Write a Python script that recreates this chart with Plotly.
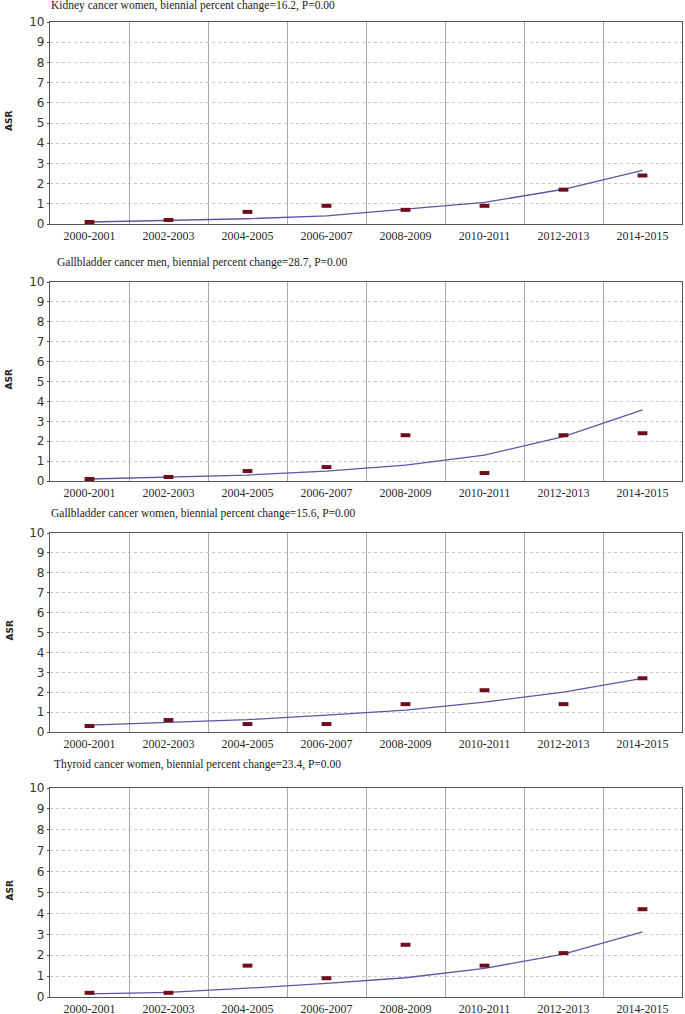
import plotly.graph_objects as go

periods = ["2000-2001", "2002-2003", "2004-2005", "2006-2007",
           "2008-2009", "2010-2011", "2012-2013", "2014-2015"]

titles = [
    "Kidney cancer women, biennial percent change=16.2, P=0.00",
    "Gallbladder cancer men, biennial percent change=28.7, P=0.00",
    "Gallbladder cancer women, biennial percent change=15.6, P=0.00",
    "Thyroid cancer women, biennial percent change=23.4, P=0.00",
]

kidney_women_obs = [0.1, 0.2, 0.6, 0.9, 0.7, 0.9, 1.7, 2.4]
kidney_women_fit = [0.1, 0.18, 0.26, 0.4, 0.72, 1.07, 1.72, 2.65]

gall_men_obs = [0.1, 0.2, 0.5, 0.7, 2.3, 0.4, 2.3, 2.4]
gall_men_fit = [0.1, 0.2, 0.3, 0.5, 0.8, 1.3, 2.23, 3.57]

gall_women_obs = [0.3, 0.6, 0.4, 0.4, 1.4, 2.1, 1.4, 2.7]
gall_women_fit = [0.35, 0.47, 0.62, 0.85, 1.1, 1.5, 2.0, 2.7]

thyroid_women_obs = [0.2, 0.2, 1.5, 0.9, 2.5, 1.5, 2.1, 4.2]
thyroid_women_fit = [0.15, 0.22, 0.42, 0.65, 0.92, 1.37, 2.05, 3.12]

observed = [kidney_women_obs, gall_men_obs, gall_women_obs, thyroid_women_obs]
fitted = [kidney_women_fit, gall_men_fit, gall_women_fit, thyroid_women_fit]

W, H = 685, 1014
# pixel layout of panels (top, bottom) and title positions
panel_px = [(22, 224), (282, 481), (533, 732), (788, 997)]
title_px = [(49, 5), (55, 262), (49, 513), (52, 764)]
x0_px, x1_px = 50, 682

fig = go.Figure()
for i in range(4):
    ax = "" if i == 0 else str(i + 1)
    fig.add_trace(go.Scatter(
        x=periods, y=fitted[i], mode="lines",
        line=dict(color="#5a56a8", width=1.3),
        xaxis="x" + ax, yaxis="y" + ax, showlegend=False, hoverinfo="skip"))
    fig.add_trace(go.Scatter(
        x=periods, y=observed[i], mode="markers",
        marker=dict(symbol="line-ew", size=7, color="#6e0d1c",
                    line=dict(color="#6e0d1c", width=4)),
        xaxis="x" + ax, yaxis="y" + ax, showlegend=False))

    top, bot = panel_px[i]
    ydom = [1 - bot / H, 1 - top / H]
    xkey = "xaxis" + ax
    ykey = "yaxis" + ax
    fig.layout[xkey] = dict(
        domain=[x0_px / W, x1_px / W], anchor="y" + ax,
        type="category", categoryorder="array", categoryarray=periods,
        range=[-0.5, 7.5], tickson="boundaries", automargin=False,
        showgrid=True, gridcolor="#a8a8a8", gridwidth=1,
        showline=True, linecolor="#555555", linewidth=1.2, mirror=True,
        ticks="", zeroline=False, fixedrange=True,
        tickfont=dict(family="Liberation Serif", size=12, color="#2a2a2a"),
    )
    fig.layout[ykey] = dict(
        domain=ydom, anchor="x" + ax, automargin=False,
        range=[0, 10], tickmode="array", tickvals=list(range(0, 11)),
        showgrid=True, gridcolor="#c8c8c8", griddash="dot", gridwidth=1,
        showline=True, linecolor="#555555", linewidth=1.2, mirror=True,
        ticks="outside", ticklen=2, tickcolor="#555555",
        zeroline=False, fixedrange=True,
        tickfont=dict(family="DejaVu Sans", size=12, color="#333333"),
    )
    tx, ty = title_px[i]
    fig.add_annotation(
        text=titles[i], xref="paper", yref="paper",
        x=tx / W, y=1 - ty / H, xanchor="left", yanchor="middle",
        showarrow=False,
        font=dict(family="Liberation Serif", size=11.5, color="#222222"))
    fig.add_annotation(
        text="<b>ASR</b>", xref="paper", yref="paper",
        x=9 / W, y=1 - ((top + bot) / 2 - 2) / H, xanchor="center",
        yanchor="middle", textangle=-90, showarrow=False,
        font=dict(family="DejaVu Sans", size=9, color="#222222"))

fig.update_layout(
    width=W, height=H,
    margin=dict(l=0, r=0, t=0, b=0),
    paper_bgcolor="white", plot_bgcolor="white",
)

fig.write_html("out.html",
               config={"displayModeBar": False},
               post_script="document.body.style.margin='0px';"
                           "document.body.style.overflow='hidden';")
